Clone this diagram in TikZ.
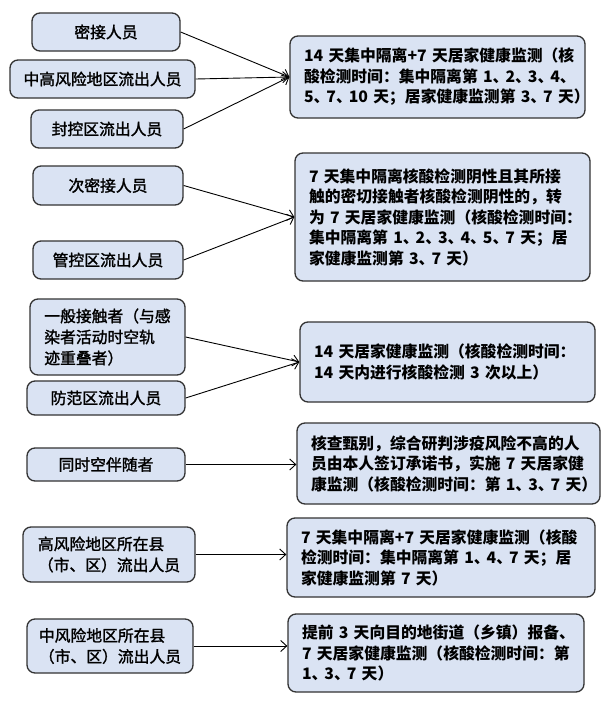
\documentclass[tikz,border=0pt]{standalone}
\usepackage{fontspec}
\setmainfont{Noto Sans CJK SC}
\newfontfamily\leftfont{Noto Sans CJK SC}[FakeBold=1.6]
\usetikzlibrary{arrows.meta}
\definecolor{boxfill}{HTML}{DAE3F3}
\definecolor{boxline}{HTML}{333333}
\newcommand\dunh{、\kern-3pt}
\tikzset{
  anybox/.style={draw=boxline, fill=boxfill, line width=1.3pt, rounded corners=8pt, inner ysep=2pt},
  lbox/.style={anybox, align=center, inner xsep=6pt, font=\leftfont\fontsize{15.8}{21}\selectfont},
  lboxl/.style={anybox, align=left, inner xsep=6pt, font=\leftfont\fontsize{15.8}{21}\selectfont},
  rbox/.style={anybox, align=left, inner xsep=14pt, font=\fontsize{15.8}{20.5}\selectfont\bfseries},
  arr/.style={draw=black, line width=0.9pt, -{Straight Barb[length=6pt,width=11pt,line width=0.9pt]}}
}
\begin{document}
\begin{tikzpicture}[x=1pt,y=-1pt]
\useasboundingbox (0,0) rectangle (614,712);
% left boxes
\node[lbox, minimum width=148, minimum height=38] (l1) at (106,32) {密接人员};
\node[lbox, minimum width=185, minimum height=38] (l2) at (102.5,79) {中高风险地区流出人员};
\node[lbox, minimum width=152, minimum height=38] (l3) at (107,129) {封控区流出人员};
\node[lbox, minimum width=150, minimum height=39] (l4) at (108,185.5) {次密接人员};
\node[lbox, minimum width=150, minimum height=38] (l5) at (108,260) {管控区流出人员};
\node[lboxl, minimum width=155, minimum height=76] (l6) at (107.5,337) {一般接触者（与感\\染者活动时空轨\\迹重叠者）};
\node[lbox, minimum width=158, minimum height=34] (l7) at (106,398) {防范区流出人员};
\node[lbox, minimum width=158, minimum height=33] (l8) at (106,464.5) {同时空伴随者};
\node[lboxl, minimum width=172, minimum height=55] (l9) at (109,554.5) {高风险地区所在县\\（市、区）流出人员};
\node[lboxl, minimum width=166, minimum height=54] (l10) at (110,646) {中风险地区所在县\\（市、区）流出人员};
% right boxes
\node[rbox, text width=267, minimum height=82] (r1) at (437.5,77)
  {14~天集中隔离+7~天居家健康监测（核\\酸检测时间：集中隔离第~1\dunh 2\dunh 3\dunh 4\dunh\\5\dunh 7\dunh 10~天；居家健康监测第~3\dunh 7~天）};
\node[rbox, text width=267, minimum height=128] (r2) at (442.5,217)
  {7~天集中隔离核酸检测阴性且其所接\\触的密切接触者核酸检测阴性的，转\\为~7~天居家健康监测（核酸检测时间：\\集中隔离第~1\dunh 2\dunh 3\dunh 4\dunh 5\dunh 7~天；居\\家健康监测第~3\dunh 7~天）};
\node[rbox, text width=267, minimum height=80] (r3) at (447.5,362)
  {14~天居家健康监测（核酸检测时间：\\14~天内进行核酸检测~3~次以上）};
\node[rbox, text width=275, minimum height=81] (r4) at (448.5,463.5)
  {核查甄别，综合研判涉疫风险不高的人\\员由本人签订承诺书，实施~7~天居家健\\康监测（核酸检测时间：第~1\dunh 3\dunh 7~天）};
\node[rbox, text width=280, minimum height=79] (r5) at (441,557.5)
  {7~天集中隔离+7~天居家健康监测（核酸\\检测时间：集中隔离第~1\dunh 4\dunh 7~天；居\\家健康监测第~7~天）};
\node[rbox, text width=268, minimum height=78] (r6) at (436,653)
  {提前~3~天向目的地街道（乡镇）报备、\\7~天居家健康监测（核酸检测时间：第\\1\dunh 3\dunh 7~天）};
% arrows
\draw[arr] (l1.east) -- (r1.west);
\draw[arr] (l2.east) -- (r1.west);
\draw[arr] (l3.east) -- (r1.west);
\draw[arr] (l4.east) -- (r2.west);
\draw[arr] (l5.east) -- (r2.west);
\draw[arr] (l6.east) -- (r3.west);
\draw[arr] (l7.east) -- (r3.west);
\draw[arr] (l8.east) -- (l8.east -| r4.west);
\draw[arr] (l9.east) -- (l9.east -| r5.west);
\draw[arr] (l10.east) -- (l10.east -| r6.west);
\end{tikzpicture}
\end{document}
